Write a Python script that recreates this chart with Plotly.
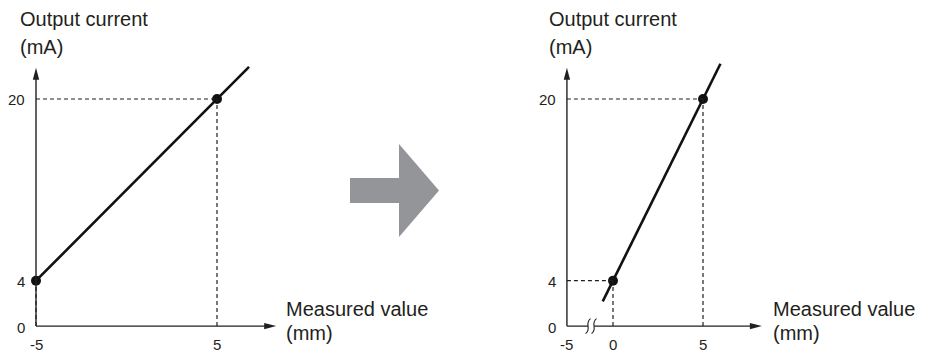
import plotly.graph_objects as go

# ---------------- data ----------------
left_points_x = [-5, 5]
left_points_y = [4, 20]
left_line_x = [-5, 6.77]
left_line_y = [4, 22.83]

right_points_x = [0, 5]
right_points_y = [4, 20]
right_line_x = [-0.57, 5.97]
right_line_y = [2.18, 23.1]

left_xtick_vals = [-5, 5]
left_xtick_text = ["-5", "5"]
right_xtick_vals = [-2.56, 0, 5]      # -5 is drawn at the broken axis origin
right_xtick_text = ["-5", "0", "5"]
ytick_vals = [0, 4, 20]
ytick_text = ["0", "4", "20"]

y_title = ["Output current", "(mA)"]
x_title = ["Measured value", "(mm)"]

left_axis_x = -5
right_axis_x = -2.56
break_x = -1.22
y_axis_top = 22.75
x_axis_end = 8.27

# ---------------- layout helpers ----------------
W, H = 928, 355
OFF = 8  # the page body adds an 8px margin; compensate so the drawing lands where the reference has it
INK = "#231f20"
FONT = "Liberation Sans, Arial, Helvetica, sans-serif"

def px(x):
    return (x - OFF) / W

def py(y):
    return 1 - (y - OFF) / H

fig = go.Figure()

for xa, ya, lx, ly, ptx, pty in [
    ("x", "y", left_line_x, left_line_y, left_points_x, left_points_y),
    ("x2", "y2", right_line_x, right_line_y, right_points_x, right_points_y),
]:
    fig.add_trace(go.Scatter(x=lx, y=ly, mode="lines", xaxis=xa, yaxis=ya,
                             line=dict(color="#111111", width=2.6),
                             hoverinfo="skip", showlegend=False))
    fig.add_trace(go.Scatter(x=ptx, y=pty, mode="markers", xaxis=xa, yaxis=ya,
                             marker=dict(color="#111111", size=10),
                             hoverinfo="skip", showlegend=False))

shapes = []
annotations = []

def add_axes(xref, yref, ax_x):
    shapes.append(dict(type="line", xref=xref, yref=yref, x0=ax_x, x1=ax_x,
                       y0=0, y1=y_axis_top - 0.8, line=dict(color=INK, width=1.4)))
    shapes.append(dict(type="line", xref=xref, yref=yref, x0=ax_x, x1=x_axis_end - 0.5,
                       y0=0, y1=0, line=dict(color=INK, width=1.4)))
    shapes.append(dict(type="path", xref=xref, yref=yref, xsizemode="pixel", ysizemode="pixel",
                       xanchor=ax_x, yanchor=y_axis_top,
                       path="M0,0 L-3.2,-12 L3.2,-12 Z",
                       fillcolor=INK, line=dict(width=0)))
    shapes.append(dict(type="path", xref=xref, yref=yref, xsizemode="pixel", ysizemode="pixel",
                       xanchor=x_axis_end, yanchor=0,
                       path="M0,0 L-12,3.2 L-12,-3.2 Z",
                       fillcolor=INK, line=dict(width=0)))

def add_guides(xref, yref, ax_x, xs, ys):
    for x, y in zip(xs, ys):
        if x != ax_x:
            shapes.append(dict(type="line", xref=xref, yref=yref, x0=ax_x, x1=x, y0=y, y1=y,
                               line=dict(color=INK, width=1.2, dash="4px,3px")))
        shapes.append(dict(type="line", xref=xref, yref=yref, x0=x, x1=x, y0=0, y1=y,
                           line=dict(color=INK, width=1.2, dash="4px,3px")))

def add_ticks(xref, yref, ax_x, xvals, xtext):
    for v, t in zip(ytick_vals, ytick_text):
        annotations.append(dict(xref=xref, yref=yref, x=ax_x, y=v, text=t, showarrow=False,
                                xanchor="right", yanchor="middle", xshift=-9, yshift=-1,
                                font=dict(family=FONT, size=15, color=INK)))
    for v, t in zip(xvals, xtext):
        annotations.append(dict(xref=xref, yref=yref, x=v, y=0, text=t, showarrow=False,
                                xanchor="center", yanchor="top", yshift=-8,
                                font=dict(family=FONT, size=15, color=INK)))

add_guides("x", "y", left_axis_x, left_points_x, left_points_y)
add_guides("x2", "y2", right_axis_x, right_points_x, right_points_y)
add_axes("x", "y", left_axis_x)
add_axes("x2", "y2", right_axis_x)
add_ticks("x", "y", left_axis_x, left_xtick_vals, left_xtick_text)
add_ticks("x2", "y2", right_axis_x, right_xtick_vals, right_xtick_text)

# axis break mark on the right x axis
shapes.append(dict(type="path", xref="x2", yref="y2", xsizemode="pixel", ysizemode="pixel",
                   xanchor=break_x, yanchor=0, path="M-3,-2 L3,-2 L3,2 L-3,2 Z",
                   fillcolor="white", line=dict(width=0)))
for c in (-3, 3):
    shapes.append(dict(type="path", xref="x2", yref="y2", xsizemode="pixel", ysizemode="pixel",
                       xanchor=break_x, yanchor=0,
                       path=f"M{c-2.5},-7.5 C{c+4},-3 {c-4},3 {c+2.5},7.5",
                       line=dict(color=INK, width=1.1)))

# grey transition arrow
arrow_pts = [(350, 178), (399, 178), (399, 144), (439, 190.5), (399, 237), (399, 203), (350, 203)]
path = "M" + " L".join(f"{px(a):.5f},{py(b):.5f}" for a, b in arrow_pts) + " Z"
shapes.append(dict(type="path", xref="paper", yref="paper", path=path,
                   fillcolor="#939598", line=dict(width=0), layer="below"))

# axis titles
for x0, xt0 in [(18, 284), (547, 771)]:
    for text, yc in zip(y_title, [19, 47]):
        annotations.append(dict(xref="paper", yref="paper", x=px(x0), y=py(yc), text=text,
                                showarrow=False, xanchor="left", yanchor="middle",
                                font=dict(family=FONT, size=20, color=INK)))
    for text, yc in zip(x_title, [309, 333]):
        annotations.append(dict(xref="paper", yref="paper", x=px(xt0), y=py(yc), text=text,
                                showarrow=False, xanchor="left", yanchor="middle",
                                font=dict(family=FONT, size=20, color=INK)))

# axis scaling: pixels -> data
LX_PPU, RX_PPU, Y_PPU = 18.1, 18.0, 11.356
L_ORIGIN_PX, R_ORIGIN_PX, Y0_PX = 36 - OFF, 613 - OFF, 326.1 - OFF
half = W / 2
left_range = [-5 - L_ORIGIN_PX / LX_PPU, -5 + (half - L_ORIGIN_PX) / LX_PPU]
right_range = [-(R_ORIGIN_PX - half) / RX_PPU, (W - R_ORIGIN_PX) / RX_PPU]
y_range = [-(H - Y0_PX) / Y_PPU, Y0_PX / Y_PPU]

hidden = dict(visible=False, fixedrange=True)
fig.update_layout(
    width=W, height=H,
    margin=dict(l=0, r=0, t=0, b=0),
    paper_bgcolor="white", plot_bgcolor="white",
    xaxis=dict(domain=[0, 0.5], range=left_range, anchor="y", **hidden),
    xaxis2=dict(domain=[0.5, 1], range=right_range, anchor="y2", **hidden),
    yaxis=dict(domain=[0, 1], range=y_range, anchor="x", **hidden),
    yaxis2=dict(domain=[0, 1], range=y_range, anchor="x2", **hidden),
    shapes=shapes,
    annotations=annotations,
    showlegend=False,
)

fig.write_html("out.html")
